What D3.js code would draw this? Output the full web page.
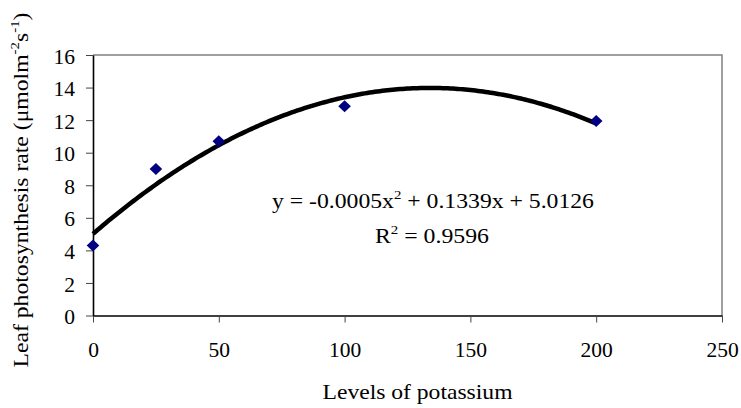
<!DOCTYPE html>
<html>
<head>
<meta charset="utf-8">
<script src="https://cdn.jsdelivr.net/npm/d3@7/dist/d3.min.js"></script>
<style>
  body { margin: 0; background: #fff; }
  svg { display: block; }
  text { font-family: "Liberation Serif", "Times New Roman", serif; fill: #000; }
</style>
</head>
<body>
<svg id="chart" width="741" height="408"></svg>
<script>
// Potassium levels and measured leaf photosynthesis rate
const potassium = [0, 25, 50, 100, 200];
const photosynthesis = [4.3, 9.0, 10.7, 12.85, 11.95];

// Quadratic trend line coefficients: y = a x^2 + b x + c
const trendCoef = [-0.0005, 0.1339, 5.0126];
const trendLabel = "-0.0005x";
const rSquared = "0.9596";

const xTicks = [0, 50, 100, 150, 200, 250];
const yTicks = [0, 2, 4, 6, 8, 10, 12, 14, 16];

const svg = d3.select("#chart");
const margin = { left: 93, right: 19, top: 55, bottom: 92.5 };
const W = 741, H = 408;
const FS = 21.5;

const x = d3.scaleLinear().domain([0, 250]).range([margin.left, W - margin.right]);
const y = d3.scaleLinear().domain([0, 16]).range([H - margin.bottom, margin.top]);

// plot frame: top and right in grey
svg.append("path")
  .attr("d", `M${x(0)},${y(16)}H${x(250)}V${y(0)}`)
  .attr("fill", "none").attr("stroke", "#808080").attr("stroke-width", 1.5);

// x axis
const xAxis = svg.append("g")
  .attr("transform", `translate(0,${y(0)})`)
  .call(d3.axisBottom(x).tickValues(xTicks).tickSize(7).tickSizeOuter(0).tickPadding(19));
xAxis.select(".domain").attr("stroke", "#000").attr("stroke-width", 1.6);
xAxis.selectAll(".tick line").attr("stroke", "#444").attr("stroke-width", 1);
xAxis.selectAll(".tick text").attr("font-size", FS).style("font-family", "Liberation Serif");

// y axis
const yAxis = svg.append("g")
  .attr("transform", `translate(${x(0)},0)`)
  .call(d3.axisLeft(y).tickValues(yTicks).tickSize(7).tickSizeOuter(0).tickPadding(11));
yAxis.select(".domain").attr("stroke", "#000").attr("stroke-width", 1.6);
yAxis.selectAll(".tick line").attr("stroke", "#444").attr("stroke-width", 1);
yAxis.selectAll(".tick text").attr("font-size", FS).attr("dy", "0.38em").style("font-family", "Liberation Serif");

// trend curve
const trend = d3.range(0, 200.01, 1).map(v => [v, trendCoef[0] * v * v + trendCoef[1] * v + trendCoef[2]]);
svg.append("path")
  .datum(trend)
  .attr("d", d3.line().x(d => x(d[0])).y(d => y(d[1])))
  .attr("fill", "none").attr("stroke", "#000").attr("stroke-width", 4.5)
  .attr("stroke-linecap", "butt");

// data markers (diamonds)
svg.append("g").selectAll("path")
  .data(potassium.map((k, i) => [k, photosynthesis[i]]))
  .join("path")
  .attr("transform", d => `translate(${x(d[0])},${y(d[1])})`)
  .attr("d", "M0,-6L6.3,0L0,6L-6.3,0Z")
  .attr("fill", "#000080");

// equation and R^2
const eq = svg.append("text").attr("x", 433).attr("y", 208)
  .attr("text-anchor", "middle").attr("font-size", FS)
  .attr("textLength", 322).attr("lengthAdjust", "spacingAndGlyphs");
eq.append("tspan").text("y = " + trendLabel);
eq.append("tspan").attr("dy", -9).attr("font-size", 13.5).text("2");
eq.append("tspan").attr("dy", 9).text(" + 0.1339x + 5.0126");

const r2 = svg.append("text").attr("x", 432).attr("y", 242.5)
  .attr("text-anchor", "middle").attr("font-size", FS)
  .attr("textLength", 114).attr("lengthAdjust", "spacingAndGlyphs");
r2.append("tspan").text("R");
r2.append("tspan").attr("dy", -9).attr("font-size", 13.5).text("2");
r2.append("tspan").attr("dy", 9).text(" = " + rSquared);

// axis titles
svg.append("text").attr("x", 417.5).attr("y", 399)
  .attr("text-anchor", "middle").attr("font-size", FS)
  .attr("textLength", 190).attr("lengthAdjust", "spacingAndGlyphs")
  .text("Levels of potassium");

const yt = svg.append("text")
  .attr("transform", "translate(28,190) rotate(-90)")
  .attr("text-anchor", "middle").attr("font-size", FS)
  .attr("textLength", 355).attr("lengthAdjust", "spacingAndGlyphs");
yt.append("tspan").text("Leaf photosynthesis rate (\u03bcmolm");
yt.append("tspan").attr("dy", -9).attr("font-size", 13.5).text("-2");
yt.append("tspan").attr("dy", 9).text("s");
yt.append("tspan").attr("dy", -9).attr("font-size", 13.5).text("-1");
yt.append("tspan").attr("dy", 9).text(")");
</script>
</body>
</html>
